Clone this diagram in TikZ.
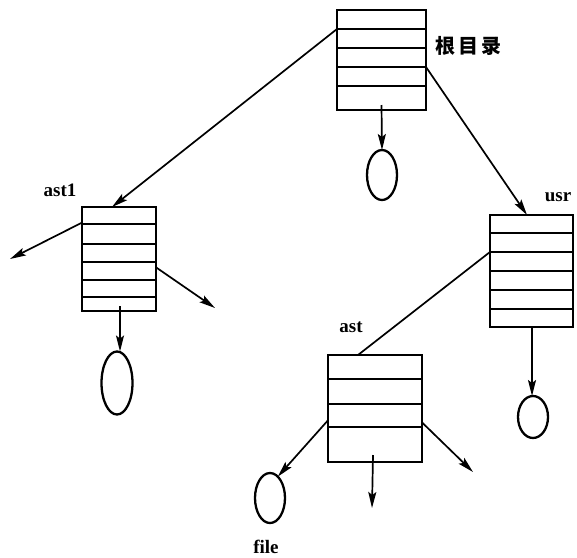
\documentclass[tikz,border=0pt]{standalone}
\usepackage{fontspec}
\setmainfont{Liberation Serif}
\newfontfamily\cjk{Noto Sans CJK SC}
\usetikzlibrary{calc,arrows.meta,shapes.geometric}
\begin{document}
\begin{tikzpicture}[x=1pt,y=-1pt,
  dirbox/.style={draw,line width=2.6pt,rectangle,inner sep=0pt,outer sep=0pt},
  rowline/.style={line width=2.2pt},
  fileov/.style={draw,line width=2.3pt,ellipse,inner sep=0pt,outer sep=0pt},
  conn/.style={line width=1.7pt},
  arr/.style={conn,-{Stealth[length=16pt,width=8pt,inset=3pt]}},
  lbl/.style={font=\fontsize{19}{22}\selectfont\bfseries,inner sep=0pt}]
\useasboundingbox (0,0) rectangle (577,557);
\fill[white] (0,0) rectangle (577,557);

% directory boxes
\node[dirbox,minimum width=89pt,minimum height=100pt] (root) at (381.5,60) {};
\node[dirbox,minimum width=74pt,minimum height=104pt] (ast1) at (119,259) {};
\node[dirbox,minimum width=83pt,minimum height=112pt] (usr) at (531.5,271) {};
\node[dirbox,minimum width=94pt,minimum height=107pt] (ast) at (375,408.5) {};

\foreach \f in {.19,.38,.57,.76}
  \draw[rowline] ($(root.north west)!\f!(root.south west)$) -- ($(root.north east)!\f!(root.south east)$);
\foreach \f in {.163,.356,.529,.702,.865}
  \draw[rowline] ($(ast1.north west)!\f!(ast1.south west)$) -- ($(ast1.north east)!\f!(ast1.south east)$);
\foreach \f in {.16,.33,.5,.67,.84}
  \draw[rowline] ($(usr.north west)!\f!(usr.south west)$) -- ($(usr.north east)!\f!(usr.south east)$);
\foreach \f in {.224,.458,.673}
  \draw[rowline] ($(ast.north west)!\f!(ast.south west)$) -- ($(ast.north east)!\f!(ast.south east)$);

% files
\node[fileov,minimum width=30pt,minimum height=50pt] (f0) at (382,175) {};
\node[fileov,minimum width=31pt,minimum height=63pt] (f1) at (117,383) {};
\node[fileov,minimum width=30pt,minimum height=42pt] (f2) at (533,417) {};
\node[fileov,minimum width=30pt,minimum height=50pt] (f3) at (270,498) {};

% labels
\node[font=\cjk\bfseries\fontsize{20}{22}\selectfont,inner sep=0pt] (lroot) at (468,46) {根\hspace{3pt}目\hspace{3pt}录};
\node[lbl] (last1) at (60,190) {ast1};
\node[lbl] (lusr) at (558,197) {usr};
\node[lbl] (last) at (351,327) {ast};
\node[lbl,anchor=base] (lfile) at (266,553) {file};

% free ends
\coordinate (a1l) at (10,259);
\coordinate (a1r) at (215,308);
\coordinate (asr) at (473,472);
\coordinate (asd) at (372,508);

% connectors
\draw[arr] ($(root.north west)!.19!(root.south west)$) -- ([xshift=-7pt]ast1.north);
\draw[arr] ($(root.north east)!.57!(root.south east)$) -- ([xshift=-4.5pt]usr.north);
\draw[arr] ([yshift=5pt]root.south) -- (f0.north);
\draw[arr] ($(ast1.north west)!.15!(ast1.south west)$) -- (a1l);
\draw[arr] ($(ast1.north east)!.58!(ast1.south east)$) -- (a1r);
\draw[arr] ([xshift=1pt,yshift=5pt]ast1.south) -- ([xshift=3pt]f1.north);
\draw[conn] ($(usr.north west)!.33!(usr.south west)$) -- ([xshift=-17pt]ast.north);
\draw[arr] ([xshift=0.5pt]usr.south) -- ([xshift=-1pt]f2.north);
\draw[arr] ($(ast.north west)!.61!(ast.south west)$) -- (f3.70);
\draw[arr] ($(ast.north east)!.63!(ast.south east)$) -- (asr);
\draw[arr] ([xshift=-2pt,yshift=7pt]ast.south) -- (asd);
\end{tikzpicture}
\end{document}
